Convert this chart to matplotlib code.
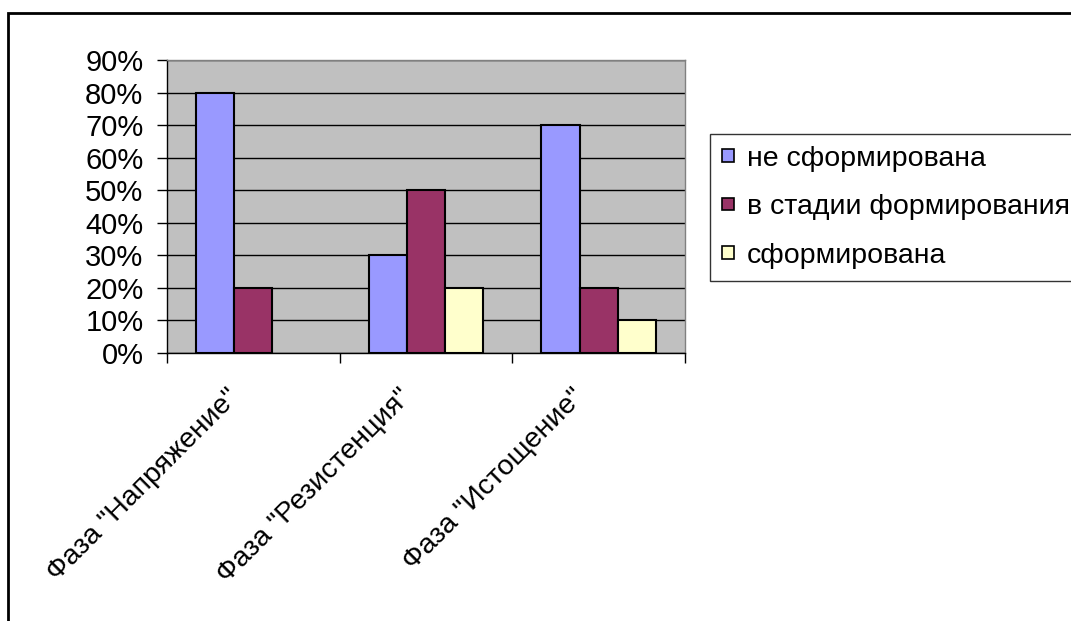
import numpy as np
import matplotlib
matplotlib.use("Agg")
import matplotlib.pyplot as plt
import matplotlib.transforms as mtransforms
from matplotlib.patches import Rectangle
from matplotlib.ticker import MultipleLocator, FuncFormatter

plt.rcParams['font.family'] = ['Liberation Sans', 'DejaVu Sans']

# Data
categories = ['Фаза "Напряжение"', 'Фаза "Резистенция"', 'Фаза "Истощение"']
series_names = ['не сформирована', 'в стадии формирования', 'сформирована']
not_formed = [80, 30, 70]
forming = [20, 50, 20]
formed = [0, 20, 10]
colors = ['#9999FF', '#993366', '#FFFFCC']

fig = plt.figure(figsize=(10.71, 6.21), dpi=100)
fig.patch.set_facecolor('white')

# outer chart frame (runs off the right and bottom edges)
frame = Rectangle((8 / 1071, -0.1), 1.2, 0.1 + 1 - 13 / 621, transform=fig.transFigure,
                  fill=False, edgecolor='black', linewidth=2, clip_on=False)
fig.patches.append(frame)

ax = fig.add_axes([167 / 1071, 1 - 353 / 621, (685 - 167) / 1071, (353 - 60) / 621])
ax.set_facecolor('#C0C0C0')

x = np.arange(len(categories))
w = 0.222
for i, (vals, name, c) in enumerate(zip([not_formed, forming, formed], series_names, colors)):
    lw = [1.5 if v > 0 else 0 for v in vals]
    ax.bar(x + (i - 1) * w, vals, width=w, color=c, edgecolor='black', linewidth=lw,
           label=name, zorder=3)

ax.set_xlim(-0.5, 2.5)
ax.set_ylim(0, 90)
ax.yaxis.set_major_locator(MultipleLocator(10))
ax.yaxis.set_major_formatter(FuncFormatter(lambda v, p: f'{v:.0f}%'))
ax.grid(axis='y', color='black', linewidth=1, zorder=1)

for side in ['top', 'right']:
    ax.spines[side].set_color('#808080')
    ax.spines[side].set_linewidth(1)
for side in ['left', 'bottom']:
    ax.spines[side].set_color('black')
    ax.spines[side].set_linewidth(1)

ax.tick_params(axis='y', direction='out', length=7, width=1, pad=10, labelsize=21)
ax.set_xticks(x)
ax.set_xticklabels([])
ax.set_xticks(np.arange(-0.5, 3, 1), minor=True)
ax.tick_params(axis='x', which='major', length=0)
ax.tick_params(axis='x', which='minor', direction='out', length=7, width=1)

# rotated category labels hanging below the axis
offset = mtransforms.ScaledTranslation(-18 / 100, -40 / 100, fig.dpi_scale_trans)
for xi, cat in zip(x, categories):
    ax.text(xi, 0, cat, rotation=45, ha='right', va='center', rotation_mode='anchor',
            fontsize=20.5, transform=ax.transData + offset, clip_on=False)

leg = ax.legend(loc='upper left', bbox_to_anchor=(710 / 1071, 1 - 134 / 621),
                bbox_transform=fig.transFigure, fontsize=20.5, frameon=True,
                fancybox=False, edgecolor='black', handlelength=0.42, handleheight=0.3,
                handletextpad=0.45, labelspacing=0.79, borderpad=0.42, borderaxespad=0)
leg.get_frame().set_linewidth(1)
leg.set_clip_on(False)
for h in leg.legend_handles:
    h.set_linewidth(1.2)
    h.set_edgecolor('black')

fig.savefig('out.png', dpi=100)
